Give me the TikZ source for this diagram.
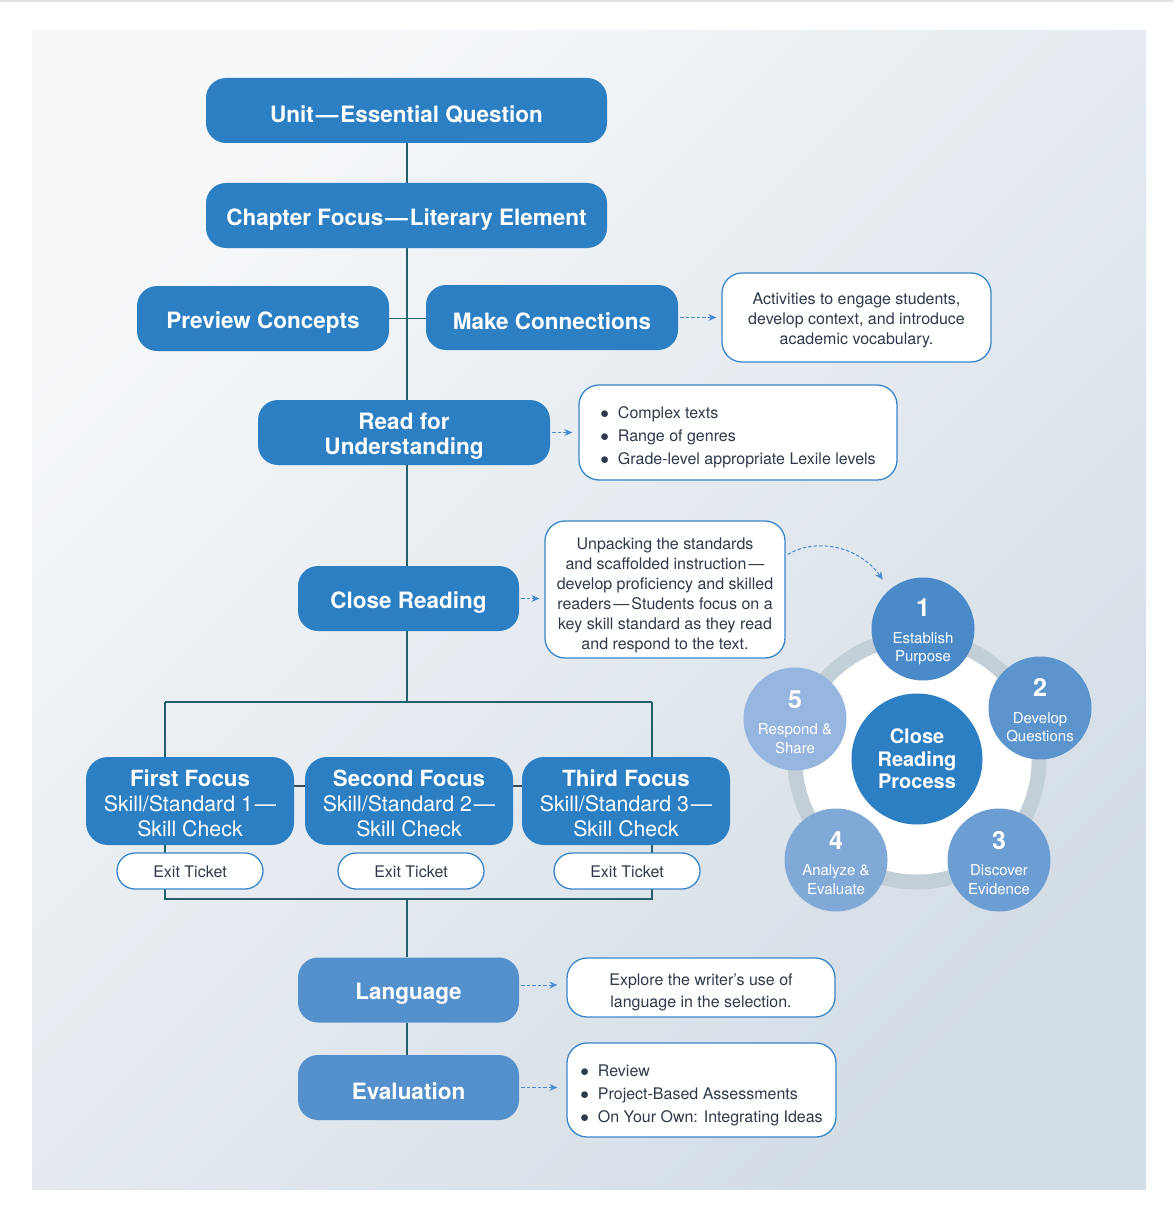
\documentclass[tikz,border=0pt]{standalone}
\usepackage{fontspec}
\setmainfont{TeX Gyre Heros}
\usetikzlibrary{arrows.meta,backgrounds}
\definecolor{mainblue}{HTML}{2C7FC3}
\definecolor{lightblue}{HTML}{5490CC}
\definecolor{borderblue}{HTML}{3A86C8}
\definecolor{arrowblue}{HTML}{4A8BCF}
\definecolor{textdark}{HTML}{2E3A4B}
\definecolor{connteal}{HTML}{23606C}
\definecolor{conngray}{HTML}{3E4B57}
\definecolor{bgA}{HTML}{F6F8FA}
\definecolor{bgB}{HTML}{D3DDE6}
\definecolor{ringgray}{HTML}{C3CFD7}
\definecolor{cA}{HTML}{4A8AC8}
\definecolor{cB}{HTML}{5C94CD}
\definecolor{cC}{HTML}{6D9ED3}
\definecolor{cD}{HTML}{80A9D8}
\definecolor{cE}{HTML}{96B6DF}
\newcommand{\blt}{\textcolor{textdark}{$\bullet$}\hspace{9pt}}
\newcommand{\lift}[1]{\rule{0pt}{#1}}
\def\tshval{0pt}
\begin{document}
\begin{tikzpicture}[x=1pt,y=-1pt,
  tshift/.code={\def\tshval{#1}},
  bluebox/.style={fill=mainblue, text=white, rounded corners=20pt, align=center, inner sep=0pt,
    font=\bfseries\fontsize{22.5}{25}\selectfont, tshift=24.2pt,
    execute at begin node={\rule{0pt}{\tshval}}},
  lightbox/.style={bluebox, fill=lightblue},
  notebox/.style={fill=white, draw=borderblue, line width=1.3pt, rounded corners=20pt, text=textdark,
    align=center, inner sep=0pt, font=\fontsize{16}{19.9}\selectfont},
  listbox/.style={notebox, align=left, font=\fontsize{16}{23}\selectfont},
  ticket/.style={notebox, rounded corners=18pt, minimum width=146pt, minimum height=36pt},
  focusbox/.style={fill=mainblue, text=white, rounded corners=22pt, align=center, inner sep=0pt,
    minimum width=208pt, minimum height=88pt, font=\fontsize{21.3}{25}\selectfont},
  conn/.style={draw=connteal, line width=1.8pt},
  gconn/.style={draw=conngray, line width=1.8pt},
  darrow/.style={draw=arrowblue, line width=1pt, dash pattern=on 3.5pt off 2pt,
    -{Stealth[length=8pt,width=7pt]}},
  step circle/.style={circle, text=white, minimum size=103pt, inner sep=0pt, align=center,
    font=\fontsize{15}{18.5}\selectfont},
]
\useasboundingbox (0,0) rectangle (1173,1209);

% coordinates for the branch frame
\coordinate (bl) at (165,702);
\coordinate (bm) at (407,702);
\coordinate (br) at (652,702);
\coordinate (dl) at (165,899);
\coordinate (dm) at (407,899);
\coordinate (dr) at (652,899);

% main nodes
\node[bluebox, minimum width=401pt, minimum height=65pt] (unit) at (406.5,110.5) {Unit\kern2pt—\kern2pt Essential Question};
\node[bluebox, minimum width=401pt, minimum height=65pt] (chapter) at (406.5,215.5) {Chapter Focus\kern2pt—\kern2pt Literary Element};
\node[bluebox, minimum width=252pt, minimum height=65pt] (preview) at (263,318.5) {Preview Concepts};
\node[bluebox, minimum width=252pt, minimum height=65pt] (make) at (552,317.5) {Make Connections};
\node[bluebox, minimum width=292pt, minimum height=65pt] (read) at (404,432.5) {\lift{24.2pt}Read for\\Understanding};
\node[bluebox, minimum width=221pt, minimum height=65pt] (close) at (408.5,598.5) {Close Reading};

\node[focusbox] (f1) at (190,801) {\lift{22pt}{\bfseries\fontsize{22.3}{25}\selectfont First Focus}\\Skill/Standard 1\kern2pt—\\Skill Check};
\node[focusbox] (f2) at (409,801) {\lift{22pt}{\bfseries\fontsize{22.3}{25}\selectfont Second Focus}\\Skill/Standard 2\kern2pt—\\Skill Check};
\node[focusbox] (f3) at (626,801) {\lift{22pt}{\bfseries\fontsize{22.3}{25}\selectfont Third Focus}\\Skill/Standard 3\kern2pt—\\Skill Check};

\node[lightbox, minimum width=221pt, minimum height=65pt] (lang) at (408.5,990) {Language};
\node[lightbox, minimum width=221pt, minimum height=65pt] (eval) at (408.5,1087.5) {Evaluation};

% exit tickets
\node[ticket] (t1) at (190,871) {\lift{13.7pt}Exit Ticket};
\node[ticket] (t2) at (411,871) {\lift{13.7pt}Exit Ticket};
\node[ticket] (t3) at (627,871) {\lift{13.7pt}Exit Ticket};

% note boxes
\node[notebox, minimum width=269pt, minimum height=89pt] (act) at (856.5,317.5)
  {\lift{17.7pt}Activities to engage students,\\develop context, and introduce\\academic vocabulary.};
\node[listbox, minimum width=318pt, minimum height=95pt] (texts) at (738,432.5)
  {\lift{21.7pt}\blt Complex texts\\\blt Range of genres\\\blt Grade-level appropriate Lexile levels};
\node[notebox, minimum width=240pt, minimum height=137pt] (unpack) at (665,589.5)
  {\lift{23.5pt}Unpacking the standards\\and scaffolded instruction\kern2pt—\\develop proficiency and skilled\\readers\kern2pt—\kern2pt Students focus on a\\key skill standard as they read\\and respond to the text.};
\node[notebox, minimum width=268pt, minimum height=59pt, font=\fontsize{16}{22}\selectfont] (explore) at (701,987.5)
  {\lift{21.7pt}Explore the writer's use of\\language in the selection.};
\node[listbox, minimum width=269pt, minimum height=94pt] (review) at (701.5,1090)
  {\lift{21.7pt}\blt Review\\\blt Project-Based Assessments\\\blt On Your Own: Integrating Ideas};

% close reading process
\coordinate (ringc) at (917,760);
\node[circle, fill=mainblue, text=white, minimum size=131pt, inner sep=0pt, align=center,
  font=\bfseries\fontsize{20}{22.5}\selectfont] (crp) at (917,759) {Close\\Reading\\Process};
\node[step circle, fill=cA] (c1) at (923,629)
  {\lift{23.5pt}{\fontsize{25}{25}\bfseries 1}\\[8pt]Establish\\Purpose};
\node[step circle, fill=cB] (c2) at (1040,708)
  {\lift{23.5pt}{\fontsize{25}{25}\bfseries 2}\\[8pt]Develop\\Questions};
\node[step circle, fill=cC] (c3) at (999,860)
  {\lift{23.5pt}{\fontsize{25}{25}\bfseries 3}\\[8pt]Discover\\Evidence};
\node[step circle, fill=cD] (c4) at (836,860)
  {\lift{23.5pt}{\fontsize{25}{25}\bfseries 4}\\[8pt]Analyze \&\\Evaluate};
\node[step circle, fill=cE] (c5) at (795,719)
  {\lift{23.5pt}{\fontsize{25}{25}\bfseries 5}\\[8pt]Respond \&\\Share};

% background, connectors and ring (behind nodes)
\begin{scope}[on background layer]
\fill[white] (0,0) rectangle (1173,1209);
\fill[black!12] (0,0) rectangle (1173,2);
\shade[top color=bgA, bottom color=bgB, shading angle=45] (32,31) rectangle (1146,1189);
\draw[conn] (unit.south -| bm) -- (chapter.north -| bm);
\draw[conn] (chapter.south -| bm) -- (read.north -| bm);
\draw[conn] (preview.east) -- (preview.east -| make.west);
\draw[conn] (read.south -| bm) -- (close.north -| bm);
\draw[conn] (close.south -| bm) -- (bm);
\draw[conn] (bl) -- (br);
\draw[conn] (bl) -- (dl) -- (dr) -- (br);
\draw[conn] (dm) -- (lang.north -| dm);
\draw[conn] (lang.south -| dm) -- (eval.north -| dm);
\draw[gconn] ([yshift=15pt]f1.east) -- ([yshift=15pt]f2.west);
\draw[gconn] ([yshift=15pt]f2.east) -- ([yshift=15pt]f3.west);
\draw[ringgray, line width=15pt] (ringc) circle (122pt);
\fill[white] (ringc) circle (114.5pt);
\end{scope}

% dashed arrows
\draw[darrow, shorten <=2pt, shorten >=5pt] (make.east) -- (act.west |- make.east);
\draw[darrow, shorten <=2pt, shorten >=6pt] (read.east) -- (texts.west |- read.east);
\draw[darrow, shorten <=2pt, shorten >=5pt] (close.east) -- (unpack.west |- close.east);
\draw[darrow, shorten <=2pt, shorten >=9pt] ([yshift=5pt]lang.east) -- ([yshift=5pt]lang.east -| explore.west);
\draw[darrow, shorten <=2pt, shorten >=9pt] (eval.east) -- (review.west |- eval.east);
\draw[darrow, shorten >=12pt] ([yshift=35pt,xshift=2pt]unpack.east) .. controls (815,538) and (858,545) .. (c1.130);
\end{tikzpicture}
\end{document}
